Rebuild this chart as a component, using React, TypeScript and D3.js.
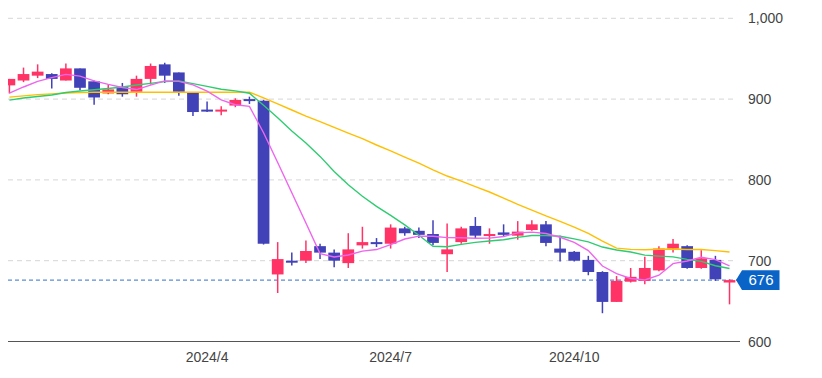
import React from "react";
import * as d3 from "d3";

const dates = [
  "2023-12-29", "2024-01-05", "2024-01-12", "2024-01-19", "2024-01-26", "2024-02-02", "2024-02-09",
  "2024-02-16", "2024-02-23", "2024-03-01", "2024-03-08", "2024-03-15", "2024-03-22", "2024-03-29",
  "2024-04-05", "2024-04-12", "2024-04-19", "2024-04-26", "2024-05-03", "2024-05-10", "2024-05-17",
  "2024-05-24", "2024-05-31", "2024-06-07", "2024-06-14", "2024-06-21", "2024-06-28", "2024-07-05",
  "2024-07-12", "2024-07-19", "2024-07-26", "2024-08-02", "2024-08-09", "2024-08-16", "2024-08-23",
  "2024-08-30", "2024-09-06", "2024-09-13", "2024-09-20", "2024-09-27", "2024-10-04", "2024-10-11",
  "2024-10-18", "2024-10-25", "2024-11-01", "2024-11-08", "2024-11-15", "2024-11-22", "2024-11-29",
  "2024-12-06", "2024-12-13", "2024-12-20",
];

const open = [
  917, 923, 929, 931, 923, 938, 922, 907, 915, 909, 925, 943, 933, 908, 887, 885, 892, 900, 898, 683,
  700, 700, 718, 710, 697, 719, 723, 721, 740, 737, 733, 708, 723, 743, 731, 735, 731, 738, 745, 715,
  711, 701, 686, 649, 674, 675, 688, 715, 718, 691, 701, 673,
];
const high = [
  925, 939, 943, 932, 944, 938, 923, 918, 920, 929, 944, 945, 933, 908, 897, 891, 901, 903, 899, 723,
  710, 725, 721, 714, 734, 742, 728, 745, 742, 741, 750, 746, 742, 754, 740, 745, 749, 750, 749, 731,
  712, 706, 687, 681, 691, 705, 718, 727, 719, 713, 706, 677,
];
const low = [
  907, 921, 926, 913, 923, 911, 893, 906, 903, 903, 918, 920, 904, 879, 884, 880, 890, 894, 720, 660,
  694, 697, 702, 692, 691, 715, 717, 715, 731, 728, 719, 686, 721, 728, 721, 730, 726, 737, 718, 699,
  699, 682, 635, 649, 673, 671, 687, 710, 690, 690, 675, 646,
];
const close = [
  925, 931, 934, 925, 938, 914, 902, 912, 906, 925, 941, 929, 909, 884, 886, 887, 899, 899, 721, 702,
  699, 712, 710, 700, 714, 723, 722, 741, 734, 732, 722, 714, 740, 731, 733, 732, 736, 745, 722, 710,
  700, 686, 649, 675, 680, 691, 715, 721, 691, 703, 677, 676,
];

const ma5 = [
  907.5, 915, 922, 926.5, 930.6, 928.4, 922.6, 918.2, 914.4, 911.8, 917.2, 922.6, 922, 917.6, 909.8,
  899, 893, 891, 858.4, 821.6, 784, 746.6, 708.8, 704.6, 707, 711.8, 713.8, 720, 726.8, 730.4, 730.2,
  728.6, 728.4, 727.8, 728, 730, 734.4, 735.4, 733.6, 729, 722.6, 712.6, 693.4, 684, 678, 676.2, 682,
  696.4, 699.6, 704.2, 701.4, 693.6,
];
const ma13 = [
  898.8, 901.3, 903.2, 905, 908.2, 910, 911.5, 913.1, 915, 917.4, 919.5, 921.8, 922.4, 919.2, 915.8,
  912.2, 910.2, 907.2, 892.3, 876.9, 860.5, 845.6, 829.1, 810.5, 794, 779.7, 767.2, 756.1, 744.3,
  731.5, 717.8, 717.3, 720.2, 722.7, 724.3, 726, 728.8, 731.2, 731.1, 730.2, 727, 723.3, 716.9, 713.3,
  710.7, 706.9, 705.7, 704.8, 701.6, 699.1, 693.8, 690.3,
];
const ma26 = [
  902.5, 904, 905.5, 906.5, 907.5, 908, 908.5, 908.5, 908.5, 908.5, 908.5, 908.5, 908.5, 908.5, 908.5,
  908.5, 908.5, 908.5, 901.5, 894, 886.5, 879, 872, 865, 858, 851, 843.2, 835.9, 828.2, 820.8, 812.5,
  804.8, 798.6, 791.6, 785, 777.5, 769.7, 762.6, 755.4, 748.7, 741.5, 733.8, 724.2, 715.6, 714, 713.6,
  714.2, 714.5, 713.8, 713.9, 712.5, 710.7,
];

const yTicks = [600, 700, 800, 900, 1000];
const xTickDates = ["2024-04-05", "2024-07-05", "2024-10-04"];
const xTickLabels = ["2024/4", "2024/7", "2024/10"];
const lastPrice = 676;

const UP = "#ff3366";
const DOWN = "#4141b8";
const FONT = "'Liberation Sans', Arial, sans-serif";

export default function App() {
  const W = 822;
  const H = 378;
  const plotLeft = 8;
  const plotRight = 737;

  const x = d3.scalePoint<string>().domain(dates).range([9.4, 9.4 + 51 * 14.12]);
  const step = x.step();
  const bw = step * 0.83;
  const y = d3.scaleLinear().domain([600, 1000]).range([341.5, 18.3]);

  const lineGen = (vals: number[]) =>
    d3
      .line<number>()
      .x((_, i) => x(dates[i]) as number)
      .y((v) => y(v))(vals) as string;

  const py = y(lastPrice);

  return (
    <svg
      width={W}
      height={H}
      style={{ position: "absolute", left: 0, top: 0, background: "#fff" }}
    >
      <defs>
        <clipPath id="plot">
          <rect x={plotLeft} y={0} width={plotRight - plotLeft} height={342} />
        </clipPath>
      </defs>
      {yTicks
        .filter((t) => t !== 600)
        .map((t) => (
          <line
            key={t}
            x1={plotLeft}
            x2={plotRight}
            y1={y(t)}
            y2={y(t)}
            stroke="#d6d6d6"
            strokeDasharray="5,4"
            strokeWidth={1}
          />
        ))}
      <line x1={plotLeft} x2={740} y1={341.5} y2={341.5} stroke="#555" strokeWidth={1.2} />
      {yTicks.map((t) => (
        <text
          key={t}
          x={748}
          y={y(t)}
          dy="0.36em"
          fontFamily={FONT}
          fontSize={14}
          fill="#444"
        >
          {d3.format(",")(t)}
        </text>
      ))}
      {xTickDates.map((d, i) => (
        <text
          key={d}
          x={x(d) as number}
          y={362}
          textAnchor="middle"
          fontFamily={FONT}
          fontSize={14}
          fill="#444"
        >
          {xTickLabels[i]}
        </text>
      ))}
      <line
        x1={plotLeft}
        x2={plotRight}
        y1={py}
        y2={py}
        stroke="#5b8dd6"
        strokeDasharray="4,3"
        strokeWidth={1.2}
      />
      <g clipPath="url(#plot)">
        {dates.map((d, i) => {
          const cx = x(d) as number;
          const o = open[i];
          const c = close[i];
          const col = c >= o ? UP : DOWN;
          const top = y(Math.max(o, c));
          const h = Math.max(2, Math.abs(y(o) - y(c)));
          return (
            <g key={d}>
              <line x1={cx} x2={cx} y1={y(high[i])} y2={y(low[i])} stroke={col} strokeWidth={1.5} />
              <rect x={cx - bw / 2} y={top} width={bw} height={h} fill={col} />
            </g>
          );
        })}
        <path d={lineGen(ma26)} fill="none" stroke="#ffbf00" strokeWidth={1.4} />
        <path d={lineGen(ma13)} fill="none" stroke="#2ecc71" strokeWidth={1.4} />
        <path d={lineGen(ma5)} fill="none" stroke="#ee66ee" strokeWidth={1.4} />
      </g>
      <polygon
        points={`736,${py} 742,${py - 9.8} 779.5,${py - 9.8} 779.5,${py + 9.8} 742,${py + 9.8}`}
        fill="#0a64c8"
      />
      <text
        x={761}
        y={py}
        dy="0.36em"
        textAnchor="middle"
        fontFamily={FONT}
        fontSize={15}
        fill="#fff"
      >
        {lastPrice}
      </text>
    </svg>
  );
}
